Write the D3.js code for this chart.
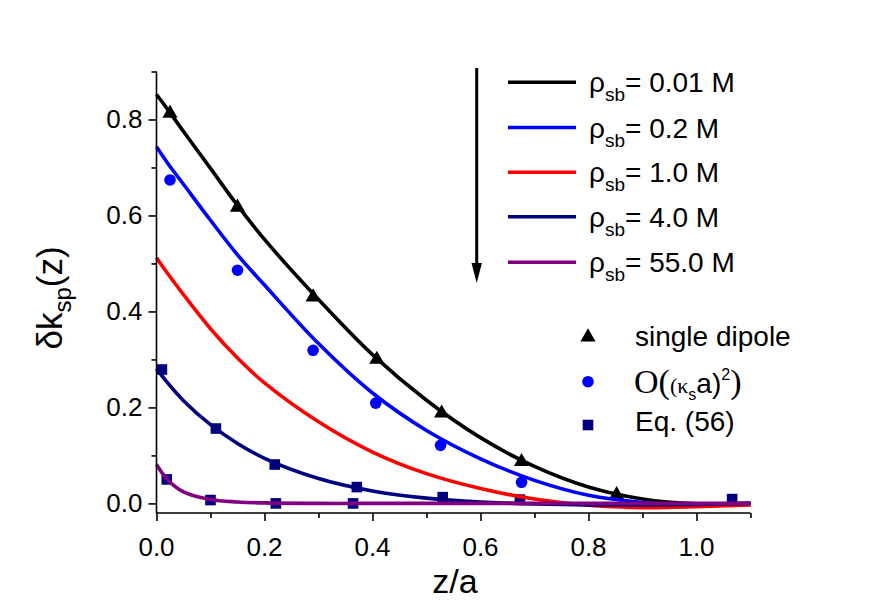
<!DOCTYPE html>
<html>
<head>
<meta charset="utf-8">
<script src="https://cdn.jsdelivr.net/npm/d3@7"></script>
<style>
  html, body { margin: 0; padding: 0; background: #fff; }
  svg { display: block; }
  text { font-family: "Liberation Sans", Arial, sans-serif; fill: #000; }
</style>
</head>
<body>
<svg id="chart" width="872" height="616"></svg>
<script>
// ---------- data ----------
const curveX = [0, 0.02, 0.05, 0.1, 0.15, 0.2, 0.3, 0.4, 0.5, 0.6, 0.7, 0.8, 0.9, 1.0, 1.1];
const rho001 = [0.852, 0.822, 0.775, 0.698, 0.621, 0.550, 0.425, 0.310, 0.215, 0.137, 0.077, 0.034, 0.009, -0.001, 0.000];
const rho02  = [0.743, 0.710, 0.665, 0.590, 0.518, 0.455, 0.333, 0.230, 0.152, 0.093, 0.048, 0.017, 0.002, -0.004, -0.001];
const rho10  = [0.512, 0.480, 0.435, 0.364, 0.303, 0.251, 0.170, 0.107, 0.062, 0.031, 0.009, -0.004, -0.009, -0.007, -0.003];
const rho40  = [0.281, 0.252, 0.214, 0.164, 0.125, 0.094, 0.052, 0.026, 0.011, 0.003, -0.001, -0.003, -0.003, -0.002, 0.000];
const rho550 = [0.081, 0.050, 0.024, 0.008, 0.003, 0.001, 0.000, 0.000, 0.000, 0.000, 0.000, 0.000, 0.000, 0.000, 0.000];

const seriesLabels = ["0.01 M", "0.2 M", "1.0 M", "4.0 M", "55.0 M"];
const seriesColors = ["#000000", "#0000ff", "#ff0000", "#000080", "#800080"];

const dipoleX = [0.025, 0.150, 0.290, 0.408, 0.528, 0.676, 0.852];
const dipoleY = [0.815, 0.619, 0.432, 0.302, 0.190, 0.089, 0.020];
const orderX  = [0.025, 0.150, 0.290, 0.406, 0.526, 0.676];
const orderY  = [0.674, 0.486, 0.319, 0.209, 0.121, 0.044];
const eqX     = [0.010, 0.110, 0.219, 0.371, 0.530, 0.673, 1.066, 0.019, 0.100, 0.221, 0.364];
const eqY     = [0.279, 0.156, 0.081, 0.034, 0.013, 0.008, 0.009, 0.050, 0.007, 0.000, 0.000];

const xTicks = [0, 0.2, 0.4, 0.6, 0.8, 1.0];
const yTicks = [0, 0.2, 0.4, 0.6, 0.8];

// ---------- layout ----------
const svg = d3.select("#chart");
svg.append("rect").attr("width", 872).attr("height", 616).attr("fill", "#fff");

const x = d3.scaleLinear().domain([0, 1.1]).range([156.5, 750.5]);
const y = d3.scaleLinear().domain([-0.02, 0.9]).range([513, 71.5]);

const seriesY = [rho001, rho02, rho10, rho40, rho550];

// markers (drawn first, lines on top)
const mk = svg.append("g");
const tri = d3.symbol().type(d3.symbolTriangle).size(100);
mk.selectAll(".tri").data(dipoleX.map((d, i) => [d, dipoleY[i]])).join("path")
  .attr("d", tri).attr("fill", "#000")
  .attr("transform", d => `translate(${x(d[0])},${y(d[1]) + 1})`);
mk.selectAll(".circ").data(orderX.map((d, i) => [d, orderY[i]])).join("circle")
  .attr("cx", d => x(d[0])).attr("cy", d => y(d[1])).attr("r", 5.8).attr("fill", "#0000ff");
mk.selectAll(".sq").data(eqX.map((d, i) => [d, eqY[i]])).join("rect")
  .attr("x", d => x(d[0]) - 5.3).attr("y", d => y(d[1]) - 5.3)
  .attr("width", 10.6).attr("height", 10.6).attr("fill", "#000080");

// lines
const line = d3.line().x((d, i) => x(curveX[i])).y(d => y(d)).curve(d3.curveCatmullRom.alpha(0.5));
svg.append("g").selectAll("path").data(seriesY).join("path")
  .attr("d", d => line(d)).attr("fill", "none")
  .attr("stroke", (d, i) => seriesColors[i]).attr("stroke-width", 3.6)
  .attr("stroke-linejoin", "round");

// axes
const xAxis = svg.append("g").attr("transform", `translate(0,${y.range()[0]})`);
xAxis.call(d3.axisBottom(x).tickValues(d3.range(0, 1.1001, 0.1)).tickSize(8).tickFormat(""));
xAxis.selectAll(".tick line").attr("y2", (d, i) => (i % 2 === 0 ? 8 : 5));
xAxis.select(".domain").attr("d", `M${x.range()[0]},0H${x.range()[1]}`);
xAxis.selectAll("path, line").attr("stroke", "#000").attr("stroke-width", 1.6);
xAxis.selectAll(".lbl").data(xTicks).join("text")
  .attr("x", d => x(d)).attr("y", 43).attr("text-anchor", "middle")
  .attr("font-size", 26)
  .text(d => d.toFixed(1));

const yAxis = svg.append("g").attr("transform", `translate(${x.range()[0]},0)`);
yAxis.call(d3.axisLeft(y).tickValues(d3.range(0, 0.9001, 0.1)).tickSize(8).tickFormat(""));
yAxis.selectAll(".tick line").attr("x2", (d, i) => (i % 2 === 0 ? -8 : -5));
yAxis.select(".domain").attr("d", `M0,${y.range()[0]}V${y(0.9)}`);
yAxis.selectAll("path, line").attr("stroke", "#000").attr("stroke-width", 1.6);
yAxis.selectAll(".lbl").data(yTicks).join("text")
  .attr("x", -14).attr("y", d => y(d) + 9).attr("text-anchor", "end")
  .attr("font-size", 26)
  .text(d => d.toFixed(1));

// axis titles
svg.append("text").attr("x", 455).attr("y", 593).attr("text-anchor", "middle")
  .attr("font-size", 34).text("z/a");
const yt = svg.append("text").attr("transform", "translate(62,298) rotate(-90)")
  .attr("text-anchor", "middle").attr("font-size", 35);
yt.append("tspan").text("δk");
yt.append("tspan").attr("font-size", 24).attr("dy", 9).text("sp");
yt.append("tspan").attr("dy", -9).text("(z)");

// arrow
svg.append("line").attr("x1", 476.7).attr("x2", 476.7).attr("y1", 68).attr("y2", 268)
  .attr("stroke", "#000").attr("stroke-width", 3);
svg.append("path").attr("d", "M471.5,263 L481.9,263 L476.7,283 Z").attr("fill", "#000");

// line legend
const legY = [82.3, 127.5, 172.3, 216.8, 262.3];
const lg = svg.append("g");
seriesLabels.forEach((lab, i) => {
  lg.append("line").attr("x1", 508).attr("x2", 576).attr("y1", legY[i]).attr("y2", legY[i])
    .attr("stroke", seriesColors[i]).attr("stroke-width", 3.6);
  const t = lg.append("text").attr("x", 589).attr("y", legY[i] + 10).attr("font-size", 28);
  t.append("tspan").text("ρ");
  t.append("tspan").attr("font-size", 19).attr("dy", 9).text("sb");
  t.append("tspan").attr("dy", -9).text("= " + lab);
});

// symbol legend
const sl = svg.append("g");
sl.append("path").attr("d", tri).attr("fill", "#000").attr("transform", "translate(588,337)");
sl.append("text").attr("x", 635).attr("y", 346).attr("font-size", 28).text("single dipole");
sl.append("circle").attr("cx", 588).attr("cy", 381.7).attr("r", 5.8).attr("fill", "#0000ff");
const ot = sl.append("text").attr("x", 634).attr("y", 393).attr("font-size", 28);
ot.append("tspan").attr("font-family", "Liberation Serif, serif").attr("font-size", 34).text("O(");
ot.append("tspan").attr("font-family", "Liberation Serif, serif").attr("font-size", 22).text("(κ");
ot.append("tspan").attr("font-size", 16).attr("dy", 7).text("s");
ot.append("tspan").attr("dy", -7).text("a)");
ot.append("tspan").attr("font-size", 16).attr("dy", -13).text("2");
ot.append("tspan").attr("font-family", "Liberation Serif, serif").attr("font-size", 34).attr("dy", 13).text(")");
sl.append("rect").attr("x", 582.7).attr("y", 419.7).attr("width", 10.6).attr("height", 10.6).attr("fill", "#000080");
sl.append("text").attr("x", 635).attr("y", 431).attr("font-size", 28).text("Eq. (56)");
</script>
</body>
</html>
